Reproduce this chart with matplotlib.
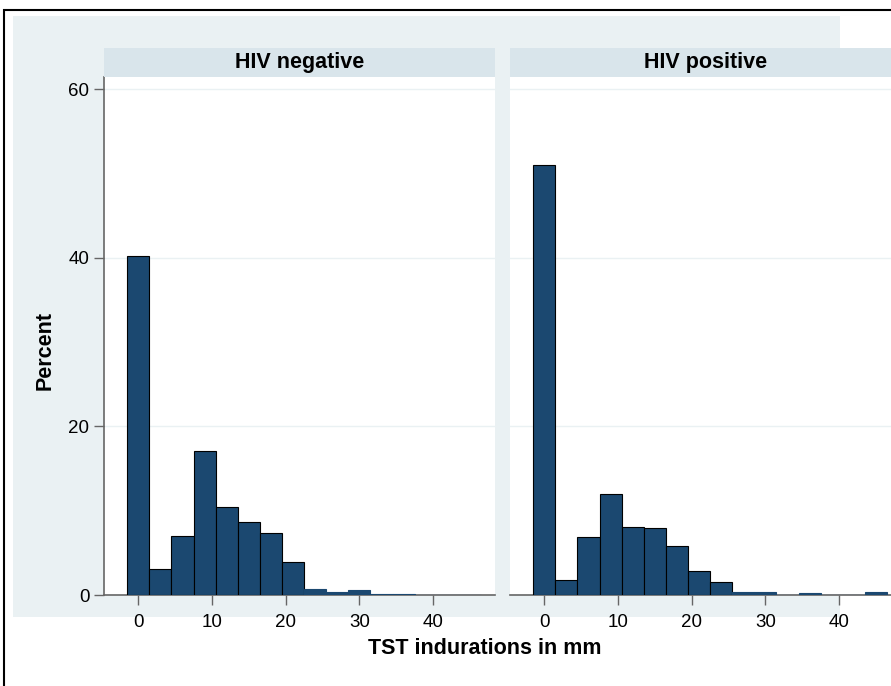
import matplotlib.pyplot as plt
from matplotlib.patches import Rectangle
import numpy as np

plt.rcParams['font.family'] = ['Liberation Sans', 'DejaVu Sans']

# histogram data (percent per 3 mm bin, first bin centred on 0)
bin_lefts = [-1.5, 1.5, 4.5, 7.5, 10.5, 13.5, 16.5, 19.5, 22.5, 25.5, 28.5, 31.5, 34.5, 37.5, 40.5, 43.5]
hiv_negative = [40.2, 3.1, 7.0, 17.1, 10.4, 8.7, 7.4, 3.9, 0.7, 0.4, 0.6, 0.1, 0.1, 0, 0, 0]
hiv_positive = [51.0, 1.8, 6.9, 12.0, 8.1, 7.9, 5.8, 2.8, 1.5, 0.4, 0.4, 0, 0.2, 0, 0, 0.4]
panel_titles = ['HIV negative', 'HIV positive']
x_ticks = [0, 10, 20, 30, 40]
y_ticks = [0, 20, 40, 60]

W, H = 891, 686
navy = '#1b4870'
bg = '#eaf1f3'
strip = '#d9e5eb'
axis_col = '#666666'


def fig_rect(x0, y0, x1, y1):
    # pixel box (from top-left) -> figure fraction [left, bottom, width, height]
    return [x0 / W, 1 - y1 / H, (x1 - x0) / W, (y1 - y0) / H]


fig = plt.figure(figsize=(W / 100, H / 100), dpi=100)

# outer frame and light graph region
fig.add_artist(Rectangle((4 / W, 1 - 700 / H), 900 / W, 690 / H, transform=fig.transFigure,
                         fill=False, edgecolor='black', linewidth=1.5))
fig.add_artist(Rectangle((13 / W, 1 - 617 / H), 827 / W, 601 / H, transform=fig.transFigure,
                         facecolor=bg, edgecolor='none', zorder=0))

panels = [(104, 495, hiv_negative), (510, 901, hiv_positive)]
for i, (x0, x1, values) in enumerate(panels):
    # strip header
    fig.add_artist(Rectangle((x0 / W, 1 - 77 / H), (x1 - x0) / W, 29 / H, transform=fig.transFigure,
                             facecolor=strip, edgecolor='none', zorder=1))
    fig.text((x0 + x1) / 2 / W, 1 - 62.5 / H, panel_titles[i], ha='center', va='center',
             fontsize=15.5, fontweight='bold')

    ax = fig.add_axes(fig_rect(x0, 77, x1, 595))
    ax.set_facecolor('white')
    edges = ['black' if v > 1 else navy for v in values]
    ax.bar(bin_lefts, values, width=3, align='edge', color=navy, edgecolor=edges, linewidth=0.8, zorder=3)

    ax.set_xlim(-4.65, 48.4)
    ax.set_ylim(0, 61.45)
    ax.set_xticks(x_ticks)
    ax.set_yticks(y_ticks)
    ax.set_axisbelow(True)
    ax.yaxis.grid(True, color=bg, linewidth=1)

    for s in ['top', 'right']:
        ax.spines[s].set_visible(False)
    ax.spines['bottom'].set_color(axis_col)
    ax.spines['bottom'].set_linewidth(1.2)
    ax.tick_params(axis='x', length=7, width=1, color=axis_col, labelsize=13.5, pad=7)
    if i == 0:
        ax.spines['left'].set_color(axis_col)
        ax.spines['left'].set_linewidth(1.2)
        ax.tick_params(axis='y', length=7, width=1, color=axis_col, labelsize=13.5, pad=3.5)
    else:
        ax.spines['left'].set_visible(False)
        ax.tick_params(axis='y', length=0, labelleft=False)

fig.text(45 / W, 1 - 350 / H, 'Percent', rotation=90, ha='center', va='center',
         fontsize=15.5, fontweight='bold')
fig.text(485 / W, 1 - 648 / H, 'TST indurations in mm', ha='center', va='center',
         fontsize=15.5, fontweight='bold')

fig.savefig('out.png', dpi=100)
